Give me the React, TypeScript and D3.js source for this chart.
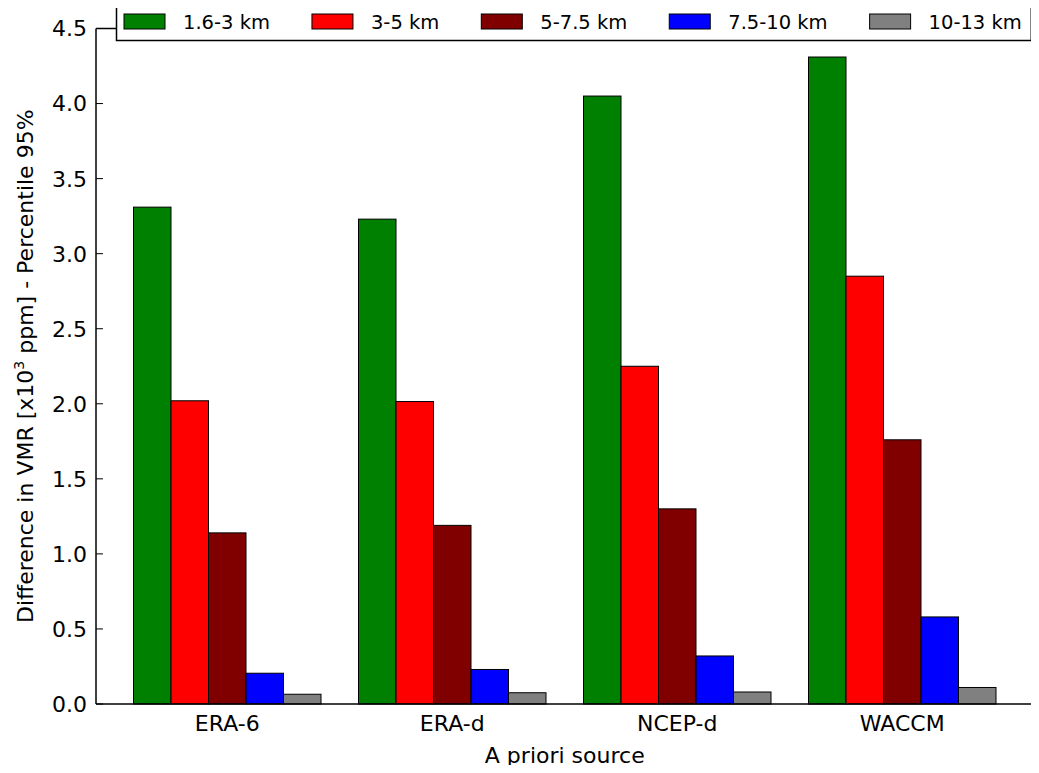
import * as d3 from "d3";
import { useEffect, useRef } from "react";

// A priori sources (x categories)
const sources = ["ERA-6", "ERA-d", "NCEP-d", "WACCM"];
// altitude layers (series)
const layers = ["1.6-3 km", "3-5 km", "5-7.5 km", "7.5-10 km", "10-13 km"];
const layerColors = ["#008000", "#ff0000", "#800000", "#0000ff", "#808080"];

// values per layer, one per source
const layer1 = [3.31, 3.23, 4.05, 4.31];
const layer2 = [2.02, 2.015, 2.25, 2.85];
const layer3 = [1.14, 1.19, 1.3, 1.76];
const layer4 = [0.205, 0.23, 0.32, 0.58];
const layer5 = [0.065, 0.075, 0.08, 0.11];
const series = [layer1, layer2, layer3, layer4, layer5];

const yTicks = [0, 0.5, 1, 1.5, 2, 2.5, 3, 3.5, 4, 4.5];

const App = () => {
    const ref = useRef<SVGSVGElement>(null);

    useEffect(() => {
        const svg = d3.select(ref.current);
        svg.selectAll("*").remove();

        const W = 1039, H = 773;
        const margin = { top: 28.5, right: 5.5, bottom: 69, left: 96 };
        const iw = W - margin.left - margin.right;
        const ih = H - margin.top - margin.bottom;
        const font = "'DejaVu Sans', sans-serif";

        const g = svg.append("g").attr("transform", `translate(${margin.left},${margin.top})`);

        // groups: width 1 each, bars fill 5/6, padding 1/6 at start
        const x = d3.scaleLinear().domain([0, sources.length + 1 / 6]).range([0, iw]);
        const barW = 1 / 6;
        const y = d3.scaleLinear().domain([0, 4.5]).range([ih, 0]);

        // bars
        series.forEach((vals, si) => {
            g.selectAll(`.bar-${si}`)
                .data(vals)
                .enter()
                .append("rect")
                .attr("x", (d, i) => x(i + 1 / 6 + si * barW))
                .attr("y", d => y(d))
                .attr("width", x(barW) - x(0))
                .attr("height", d => ih - y(d))
                .attr("fill", layerColors[si])
                .attr("stroke", "#000")
                .attr("stroke-width", 1);
        });

        // y ticks (inward)
        yTicks.forEach(t => {
            g.append("line")
                .attr("x1", 0).attr("x2", 7)
                .attr("y1", y(t)).attr("y2", y(t))
                .attr("stroke", "#000").attr("stroke-width", 1);
            g.append("text")
                .attr("x", -9).attr("y", y(t))
                .attr("dy", "0.36em")
                .attr("text-anchor", "end")
                .attr("font-family", font)
                .attr("font-size", 22)
                .text(t.toFixed(1));
        });

        // x tick labels
        sources.forEach((s, i) => {
            g.append("text")
                .attr("x", x(i + 1 / 6 + 2.5 * barW))
                .attr("y", ih + 27)
                .attr("text-anchor", "middle")
                .attr("font-family", font)
                .attr("font-size", 22)
                .text(s);
        });

        // spines: left, bottom, top
        g.append("line").attr("x1", 0).attr("x2", 0).attr("y1", 0).attr("y2", ih)
            .attr("stroke", "#000").attr("stroke-width", 1.5);
        g.append("line").attr("x1", 0).attr("x2", iw).attr("y1", ih).attr("y2", ih)
            .attr("stroke", "#000").attr("stroke-width", 1.5);
        g.append("line").attr("x1", 0).attr("x2", iw).attr("y1", 0).attr("y2", 0)
            .attr("stroke", "#000").attr("stroke-width", 1.5);

        // axis titles
        svg.append("text")
            .attr("x", margin.left + iw / 2)
            .attr("y", 763)
            .attr("text-anchor", "middle")
            .attr("font-family", font)
            .attr("font-size", 22)
            .text("A priori source");

        const yl = svg.append("text")
            .attr("transform", `translate(33,${margin.top + ih / 2}) rotate(-90)`)
            .attr("text-anchor", "middle")
            .attr("font-family", font)
            .attr("font-size", 22);
        yl.append("tspan").text("Difference in VMR [x10");
        yl.append("tspan").attr("dy", -9).attr("font-size", 14).text("3");
        yl.append("tspan").attr("dy", 9).text(" ppm] - Percentile 95%");

        // legend
        const leg = svg.append("g");
        const box = leg.append("rect")
            .attr("x", 116.5).attr("y", 5)
            .attr("height", 35.5)
            .attr("fill", "#fff")
            .attr("stroke", "#000").attr("stroke-width", 1.5);
        let lx = 124;
        layers.forEach((name, i) => {
            leg.append("rect")
                .attr("x", lx).attr("y", 14)
                .attr("width", 41).attr("height", 15)
                .attr("fill", layerColors[i])
                .attr("stroke", "#000").attr("stroke-width", 1);
            const t = leg.append("text")
                .attr("x", lx + 59).attr("y", 28.5)
                .attr("font-family", font)
                .attr("font-size", 19.5)
                .text(name);
            const tw = (t.node() as SVGTextElement).getComputedTextLength();
            lx = lx + 59 + tw + (i < layers.length - 1 ? 42 : 0);
        });
        box.attr("width", lx - 116.5 + 9.5);
    }, []);

    return <svg ref={ref} width={1039} height={773} style={{ display: "block", margin: "-8px" }}></svg>;
};

export default App;
